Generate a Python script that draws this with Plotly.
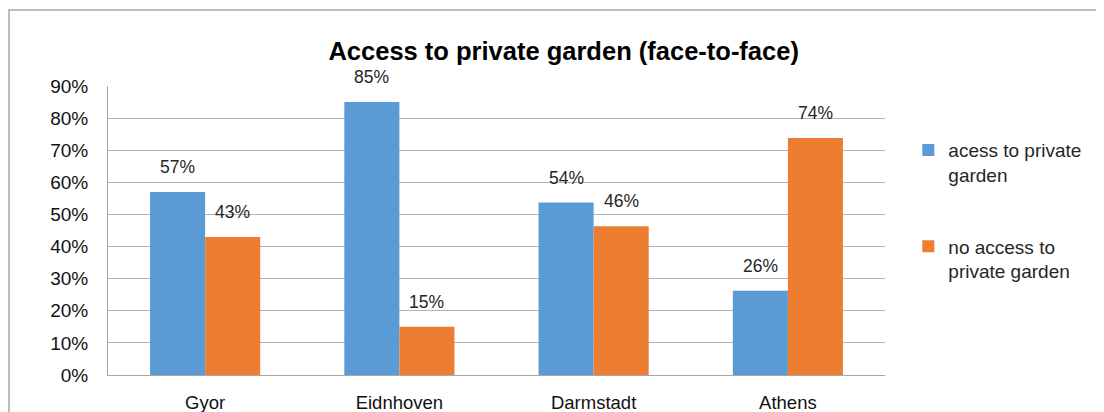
import plotly.graph_objects as go

categories = ["Gyor", "Eidnhoven", "Darmstadt", "Athens"]
access = [0.57, 0.85, 0.537, 0.262]
no_access = [0.43, 0.15, 0.463, 0.738]
series_names = ["acess to private<br>garden", "no access to<br>private garden"]
tick_vals = [0, 0.1, 0.2, 0.3, 0.4, 0.5, 0.6, 0.7, 0.8, 0.9]
tick_text = ["0%", "10%", "20%", "30%", "40%", "50%", "60%", "70%", "80%", "90%"]

FONT = "Liberation Sans"
TXT = "#262626"

fig = go.Figure()
fig.add_trace(go.Bar(
    x=categories, y=access, name=series_names[0], legendgroup="a",
    marker=dict(color="#5B9BD5", line=dict(width=0)),
))
fig.add_trace(go.Bar(
    x=categories, y=no_access, name=series_names[1], legendgroup="b",
    marker=dict(color="#ED7D31", line=dict(width=0)),
))

# value labels above bars (anchored to data coordinates)
for series, shift in ((access, -27.5), (no_access, 27.5)):
    for cat, v in zip(categories, series):
        fig.add_annotation(x=cat, y=v, xref="x", yref="y", text=f"{v*100:.0f}%",
                           showarrow=False, xshift=shift, yshift=13,
                           yanchor="bottom", xanchor="center",
                           font=dict(size=17.5, color=TXT, family=FONT))

fig.update_layout(
    width=1096, height=404,
    margin=dict(l=100, r=219, t=78, b=37, autoexpand=False),
    paper_bgcolor="white", plot_bgcolor="white",
    barmode="group", bargap=0.433, bargroupgap=0,
    font=dict(family=FONT, size=18, color=TXT),
    title=dict(text="<b>Access to private garden (face-to-face)</b>",
               x=0.507, xanchor="center", y=0.8936, yanchor="middle",
               font=dict(size=25.5, color="#000000", family=FONT)),
    legend=dict(x=1.030, y=0.844, xanchor="left", yanchor="top",
                font=dict(size=19, color=TXT, family=FONT), valign="top",
                tracegroupgap=44, itemwidth=30, bgcolor="rgba(0,0,0,0)"),
    showlegend=True,
)
fig.update_yaxes(range=[0, 0.9], tickvals=tick_vals, ticktext=tick_text,
                 showgrid=True, gridcolor="#b3b3b3", gridwidth=1,
                 showline=True, linecolor="#a6a6a6", linewidth=1,
                 ticks="", ticklabelstandoff=15, zeroline=False, automargin=False,
                 tickfont=dict(size=19, color="#111111"))
fig.update_xaxes(showline=True, linecolor="#a6a6a6", linewidth=1, ticks="",
                 ticklabelstandoff=11, automargin=False,
                 tickfont=dict(size=18.5, color="#111111"))

fig.add_shape(type="rect", xref="paper", yref="paper",
              x0=-0.1274, x1=1.5, y0=-0.5, y1=1.263,
              line=dict(color="#a6a6a6", width=1.5), fillcolor="rgba(0,0,0,0)")

fig.write_html("out.html")
